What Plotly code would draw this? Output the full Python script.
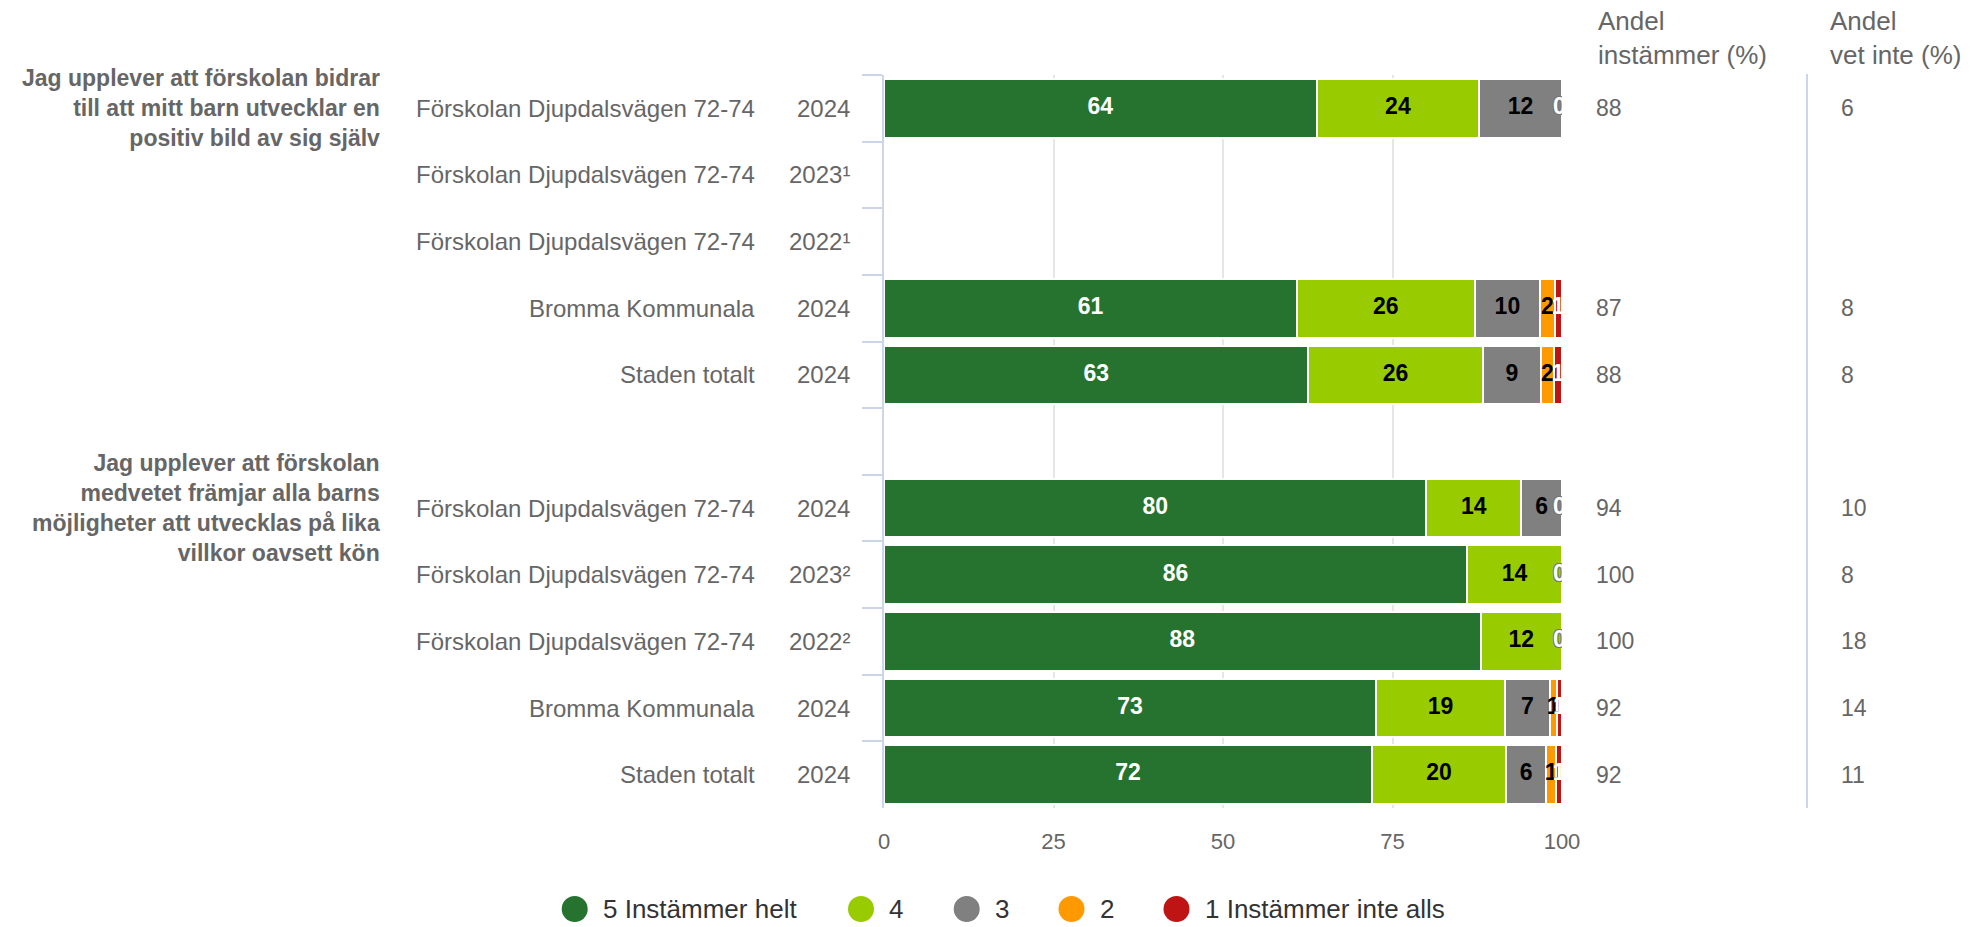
import plotly.graph_objects as go

# ---------------- data ----------------
questions = [
    "Jag upplever att förskolan bidrar<br>till att mitt barn utvecklar en<br>positiv bild av sig själv",
    "Jag upplever att förskolan<br>medvetet främjar alla barns<br>möjligheter att utvecklas på lika<br>villkor oavsett kön",
]
question_rows = [0, 6]  # first row index of each question group

units = [
    "Förskolan Djupdalsvägen 72-74", "Förskolan Djupdalsvägen 72-74", "Förskolan Djupdalsvägen 72-74",
    "Bromma Kommunala", "Staden totalt",
    "",
    "Förskolan Djupdalsvägen 72-74", "Förskolan Djupdalsvägen 72-74", "Förskolan Djupdalsvägen 72-74",
    "Bromma Kommunala", "Staden totalt",
]
years = ["2024", "2023¹", "2022¹", "2024", "2024", "",
         "2024", "2023²", "2022²", "2024", "2024"]

series_names = ["5 Instämmer helt", "4", "3", "2", "1 Instämmer inte alls"]
series_colors = ["#26732f", "#99cc00", "#808080", "#ff9900", "#bf1414"]
label_colors = ["#ffffff", "#000000", "#000000", "#000000", "#ffffff"]

s5 = [63.8, None, None, 60.9, 62.6, None, 80, 86, 88, 72.6, 72.0]
s4 = [24.0, None, None, 26.2, 25.7, None, 14, 14, 12, 19.0, 19.7]
s3 = [12.2, None, None, 9.7, 8.6, None, 6, 0, 0, 6.6, 6.0]
s2 = [0, None, None, 2.1, 1.9, None, 0, 0, 0, 1.0, 1.4]
s1 = [0, None, None, 1.1, 1.2, None, 0, 0, 0, 0.8, 0.9]
series_values = [s5, s4, s3, s2, s1]

andel_instammer = [88, None, None, 87, 88, None, 94, 100, 100, 92, 92]
andel_vet_inte = [6, None, None, 8, 8, None, 10, 8, 18, 14, 11]

col_headers = ["Andel<br>instämmer (%)", "Andel<br>vet inte (%)"]

# ---------------- layout constants (pixels) ----------------
W, H = 1970, 927
PL, PR, PT, PB = 884, 1562, 75, 808
FONT = "Liberation Sans, Arial, Helvetica, sans-serif"
GREY = "#666666"
AXIS_BLUE = "#ccd6eb"


def px_x(px):
    return (px - PL) / (PR - PL)


def px_y(py):
    return (PB - py) / (PB - PT)


row_keys = [f"r{i}" for i in range(len(units))]

fig = go.Figure()

# stacked bars
for name, color, vals in zip(series_names, series_colors, series_values):
    fig.add_trace(go.Bar(
        y=row_keys, x=vals, orientation="h", name=name,
        marker=dict(color=color, line=dict(color="#ffffff", width=2)),
        showlegend=False, hoverinfo="x+name",
    ))

# data labels (scatter text, clipped to plot area like the original)
cum = [0.0] * len(row_keys)
zero_pos = {}
for si, vals in enumerate(series_values):
    xs, ys, ts = [], [], []
    for i, v in enumerate(vals):
        if v is None:
            continue
        if v > 0:
            xs.append(cum[i] + v / 2)
            ys.append(row_keys[i])
            ts.append(str(int(round(v))))
        else:
            zero_pos[i] = cum[i] + v
        cum[i] += v
    fig.add_trace(go.Scatter(
        x=xs, y=ys, text=ts, mode="text", cliponaxis=True,
        textfont=dict(family=FONT, size=23, color=label_colors[si], weight="bold"),
        showlegend=False, hoverinfo="skip",
    ))

# zero labels (one per row, white with outline), slightly inside the edge
zx = [zero_pos[i] - 0.4 for i in sorted(zero_pos)]
zy = [row_keys[i] for i in sorted(zero_pos)]
fig.add_trace(go.Scatter(
    x=zx, y=zy, text=["0"] * len(zx), mode="text", cliponaxis=True,
    textfont=dict(family=FONT, size=23, color="#ffffff", weight="bold",
                  shadow="-1px -1px 0 #777, 1px -1px 0 #777, -1px 1px 0 #777, 1px 1px 0 #777"),
    showlegend=False, hoverinfo="skip",
))

annotations = []
for i, key in enumerate(row_keys):
    if units[i]:
        annotations.append(dict(x=px_x(757), xref="paper", y=key, yref="y", text=units[i],
                                xanchor="right", yanchor="middle", showarrow=False,
                                font=dict(family=FONT, size=24, color=GREY)))
    if years[i]:
        annotations.append(dict(x=px_x(852), xref="paper", y=key, yref="y", text=years[i],
                                xanchor="right", yanchor="middle", showarrow=False,
                                font=dict(family=FONT, size=24, color=GREY)))
    if andel_instammer[i] is not None:
        annotations.append(dict(x=px_x(1594), xref="paper", y=key, yref="y", text=str(andel_instammer[i]),
                                xanchor="left", yanchor="middle", showarrow=False,
                                font=dict(family=FONT, size=23, color=GREY)))
    if andel_vet_inte[i] is not None:
        annotations.append(dict(x=px_x(1839), xref="paper", y=key, yref="y", text=str(andel_vet_inte[i]),
                                xanchor="left", yanchor="middle", showarrow=False,
                                font=dict(family=FONT, size=23, color=GREY)))

# question labels
for q, r in zip(questions, question_rows):
    annotations.append(dict(x=px_x(382), xref="paper", y=row_keys[r], yref="y", text=q,
                            xanchor="right", yanchor="middle", align="right", showarrow=False,
                            font=dict(family=FONT, size=23, color=GREY, weight="bold")))

# column headers
for hx, htxt in zip([1596, 1828], col_headers):
    annotations.append(dict(x=px_x(hx), xref="paper", y=px_y(38), yref="paper", text=htxt,
                            xanchor="left", yanchor="middle", align="left", showarrow=False,
                            font=dict(family=FONT, size=26, color=GREY)))

shapes = [dict(type="line", xref="paper", yref="paper", x0=px_x(1807), x1=px_x(1807),
               y0=px_y(PB), y1=px_y(74), line=dict(color=AXIS_BLUE, width=2))]

# manual legend (circle symbols, spacing as in the original)
legend_cx = [574.7, 861, 966.7, 1071.5, 1176.5]
LEG_Y = 909
for cx, name, color in zip(legend_cx, series_names, series_colors):
    shapes.append(dict(type="circle", xref="paper", yref="paper",
                       xsizemode="pixel", ysizemode="pixel",
                       xanchor=px_x(cx), yanchor=px_y(LEG_Y),
                       x0=-13, x1=13, y0=-13, y1=13,
                       fillcolor=color, line=dict(width=0)))
    annotations.append(dict(x=px_x(cx + 26), xref="paper", y=px_y(LEG_Y), yref="paper", text=name,
                            xanchor="left", yanchor="middle", showarrow=False,
                            font=dict(family=FONT, size=26, color="#333333")))

fig.update_layout(
    width=W, height=H,
    margin=dict(l=PL, r=W - PR, t=PT, b=H - PB, pad=0),
    paper_bgcolor="#ffffff", plot_bgcolor="#ffffff",
    barmode="stack", bargap=0.12,
    showlegend=False,
    font=dict(family=FONT, color=GREY),
    annotations=annotations, shapes=shapes,
    xaxis=dict(range=[0, 100], tickvals=[0, 25, 50, 75, 100], showgrid=True,
               gridcolor="#e6e6e6", gridwidth=2, zeroline=False, showline=False,
               ticks="", ticklabelstandoff=18, automargin=False,
               tickfont=dict(family=FONT, size=22, color=GREY), fixedrange=True),
    yaxis=dict(type="category", categoryorder="array", categoryarray=row_keys,
               range=[len(row_keys) - 0.5, -0.5], autorange=False,
               showticklabels=False, showgrid=False, zeroline=False,
               showline=True, linecolor=AXIS_BLUE, linewidth=2, automargin=False,
               ticks="outside", tickson="boundaries", ticklen=20, tickwidth=2,
               tickcolor=AXIS_BLUE, fixedrange=True),
)

fig.write_html("out.html", config={"displayModeBar": False},
               post_script="document.body.style.margin='0';")
